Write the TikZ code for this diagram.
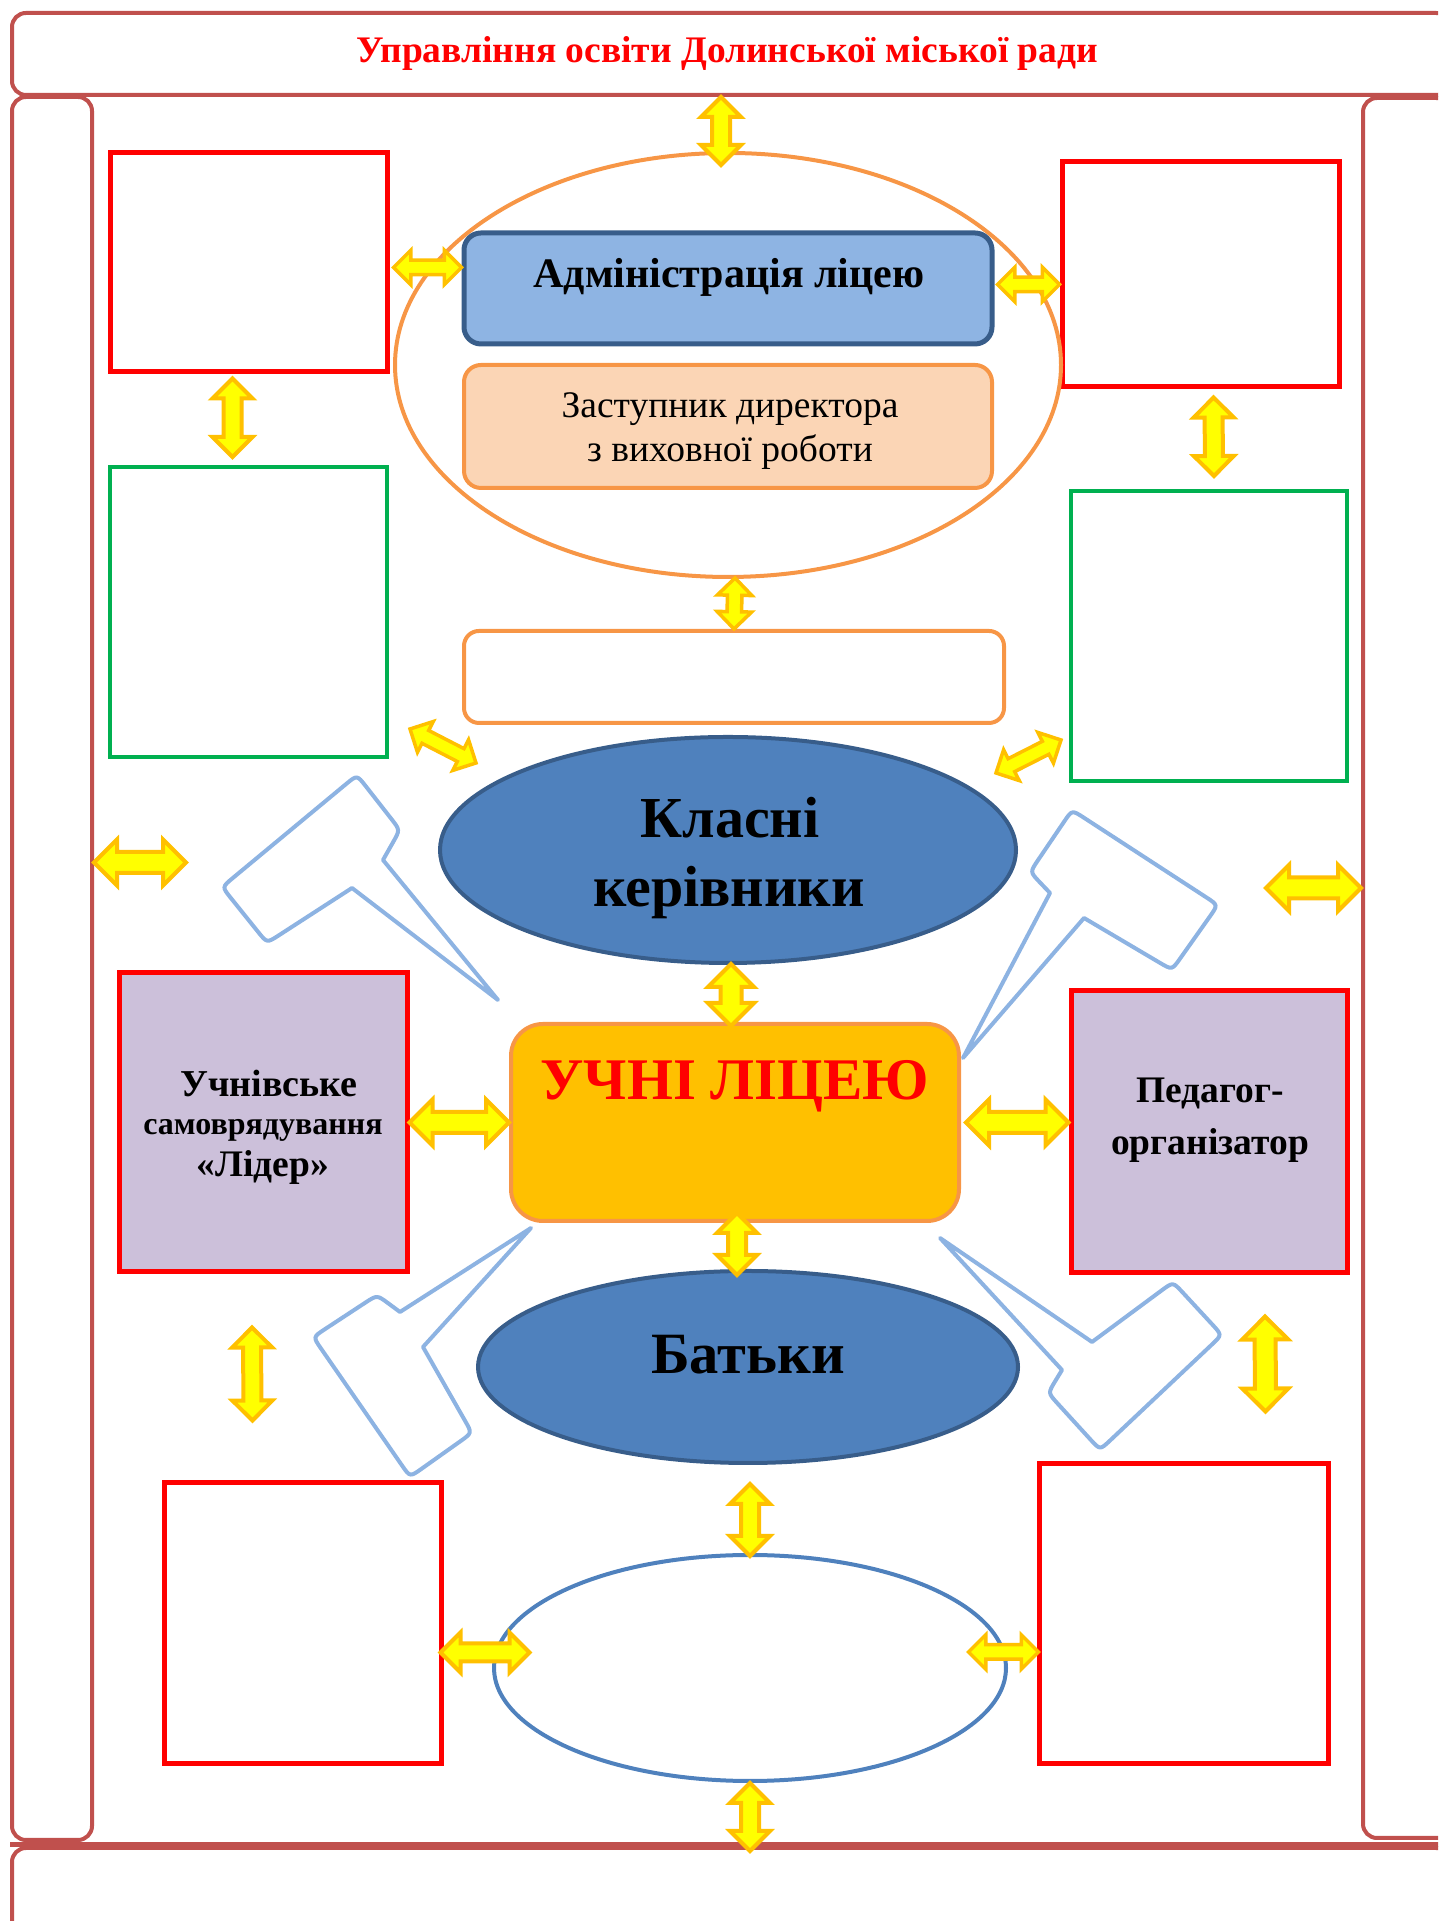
\documentclass[tikz,border=0pt]{standalone}
\usepackage{fontspec}
\setmainfont{Liberation Serif}
\usetikzlibrary{shapes.geometric,shapes.arrows,calc}
\definecolor{framec}{HTML}{C0504D}
\definecolor{redc}{HTML}{FF0000}
\definecolor{greenc}{HTML}{00B050}
\definecolor{orangec}{HTML}{F79646}
\definecolor{adminfill}{HTML}{8EB4E3}
\definecolor{darkblue}{HTML}{385D8A}
\definecolor{peach}{HTML}{FBD5B5}
\definecolor{midblue}{HTML}{4F81BD}
\definecolor{gold}{HTML}{FFC000}
\definecolor{lilac}{HTML}{CCC0DA}
\definecolor{callc}{HTML}{8DB3E2}
\definecolor{arrowye}{HTML}{FFFF00}

\newcommand{\calloutpath}[7]{%
  \draw[callout] ($#1!14pt!#7$) .. controls #1 .. ($#1!14pt!#2$)
   -- ($#2!14pt!#1$) .. controls #2 .. ($#2!14pt!#3$)
   -- #3 -- #4 -- #5
   -- ($#6!14pt!#5$) .. controls #6 .. ($#6!14pt!#7$)
   -- ($#7!14pt!#6$) .. controls #7 .. ($#7!14pt!#1$) -- cycle;}

\tikzset{
  framebox/.style={draw=framec, line width=4pt, rounded corners=14pt, inner sep=0pt},
  frameline/.style={draw=framec, line width=5pt},
  redbox/.style={draw=redc, line width=5pt, inner sep=0pt},
  greenbox/.style={draw=greenc, line width=4pt, inner sep=0pt},
  ovalorange/.style={ellipse, draw=orangec, line width=4pt, inner sep=0pt},
  adminbox/.style={draw=darkblue, fill=adminfill, line width=5pt, rounded corners=17pt, inner sep=0pt},
  deputybox/.style={draw=orangec, fill=peach, line width=4pt, rounded corners=17pt, inner sep=0pt},
  emptybox/.style={draw=orangec, line width=4pt, rounded corners=15pt, inner sep=0pt},
  blueell/.style={ellipse, draw=darkblue, fill=midblue, line width=4pt, inner sep=0pt},
  ovalblue/.style={ellipse, draw=midblue, line width=4pt, inner sep=0pt},
  uchnibox/.style={draw=orangec, fill=gold, line width=4pt, rounded corners=32pt, inner sep=0pt},
  lilacbox/.style={draw=redc, fill=lilac, line width=5pt, inner sep=0pt},
  callout/.style={draw=callc, line width=4pt, line join=round},
  txt/.style={anchor=base, inner sep=0pt},
  arrowshape/.style={double arrow, draw=gold, fill=arrowye, line width=4pt,
     inner xsep=0pt, double arrow tip angle=90, anchor=center},
  arrbig/.style={arrowshape, inner ysep=8.5pt, double arrow head extend=12.5pt},
  arrmed/.style={arrowshape, inner ysep=7pt, double arrow head extend=11pt},
  arrsmall/.style={arrowshape, line width=3.5pt, inner ysep=5.5pt, double arrow head extend=10pt},
  dblto/.style={to path={let \p1=(\tikztostart), \p2=(\tikztotarget),
     \n1={atan2(\y2-\y1,\x2-\x1)}, \n2={veclen(\x2-\x1,\y2-\y1)} in
     node[#1, minimum height=\n2, rotate=\n1] at ($(\p1)!0.5!(\p2)$) {}}},
  dbl/.style={dblto=arrbig},
  dblm/.style={dblto=arrmed},
  dbls/.style={dblto=arrsmall},
}

\begin{document}
\begin{tikzpicture}[x=1pt,y=1pt]
\useasboundingbox (0,0) rectangle (1438,1921);
\clip (0,0) rectangle (1438,1921);

% frame
\node[framebox, minimum width=1438pt, minimum height=82pt] (banner) at (731,1867) {};
\node[txt, font=\fontsize{37.5}{45}\selectfont\bfseries, text=redc] (title) at (727,1858)
  {Управління освіти Долинської міської ради};
\node[framebox, minimum width=80pt, minimum height=1743pt] (leftbar) at (52,952.5) {};
\node[framebox, minimum width=87pt, minimum height=1740pt] (rightbar) at (1406.5,953) {};
\draw[frameline] (leftbar.south west |- 0,76) -- (1450,76);
\node[framebox, minimum width=1438pt, minimum height=120pt] (botbanner) at (731,13) {};

% boxes
\node[redbox, minimum width=277pt, minimum height=219pt] (redTL) at (248.5,1658.5) {};
\node[greenbox, minimum width=277pt, minimum height=290pt] (greenL) at (248.5,1309) {};
\node[redbox, minimum width=277pt, minimum height=225pt] (redTR) at (1200.5,1646.5) {};
\node[greenbox, minimum width=276pt, minimum height=290pt] (greenR) at (1209,1285) {};
\node[ovalorange, minimum width=666pt, minimum height=424pt] (ovalA) at (728,1556) {};
\node[adminbox, minimum width=528pt, minimum height=111pt] (admin) at (728,1632.5) {};
\node[deputybox, minimum width=528pt, minimum height=123pt] (deputy) at (728,1494.5) {};
\node[emptybox, minimum width=540pt, minimum height=92pt] (emptyO) at (734,1244) {};
\node[blueell, minimum width=576pt, minimum height=226pt] (klasni) at (728,1071) {};
\node[uchnibox, minimum width=448pt, minimum height=197pt] (uchni) at (735,798.5) {};
\node[lilacbox, minimum width=288pt, minimum height=299pt] (purL) at (263,798.5) {};
\node[lilacbox, minimum width=276pt, minimum height=282pt] (purR) at (1209,789) {};
\node[blueell, minimum width=540pt, minimum height=192pt] (batky) at (748,554) {};
\node[redbox, minimum width=277pt, minimum height=281pt] (redBL) at (302.5,297.5) {};
\node[redbox, minimum width=289pt, minimum height=300pt] (redBR) at (1183.5,307) {};
\node[ovalblue, minimum width=512pt, minimum height=226pt] (ovalB) at (750,253) {};

% texts
\node[txt, font=\fontsize{42}{50}\selectfont\bfseries] (tadmin) at (729,1633) {Адміністрація ліцею};
\node[txt, font=\fontsize{37.5}{45}\selectfont] (tdep1) at (730,1503) {Заступник директора};
\node[txt, font=\fontsize{37.5}{45}\selectfont] (tdep2) at (730,1459) {з виховної роботи};
\node[txt, font=\fontsize{58}{70}\selectfont\bfseries] (tkl1) at (730,1083) {Класні};
\node[txt, font=\fontsize{58}{70}\selectfont\bfseries] (tkl2) at (729,1014) {керівники};
\node[txt, font=\fontsize{59}{71}\selectfont\bfseries, text=redc] (tuchni) at (735,821) {УЧНІ ЛІЦЕЮ};
\node[txt, font=\fontsize{58.5}{70}\selectfont\bfseries] (tbatky) at (748,547) {Батьки};
\node[txt, font=\fontsize{38}{46}\selectfont\bfseries] (tl1) at (269,824) {Учнівське};
\node[txt, font=\fontsize{32}{40}\selectfont\bfseries] (tl2) at (263,786) {самоврядування};
\node[txt, font=\fontsize{37.5}{45}\selectfont\bfseries] (tl3) at (263,744) {«Лідер»};
\node[txt, font=\fontsize{37.5}{45}\selectfont\bfseries] (tp1) at (1210,818) {Педагог-};
\node[txt, font=\fontsize{37.5}{45}\selectfont\bfseries] (tp2) at (1210,766) {організатор};

% callouts
\calloutpath{(357,1146)}{(400,1091)}{(383,1061)}{(498,921)}{(352,1033)}{(267,978)}{(222,1034)}
\calloutpath{(1218,1016)}{(1172,951)}{(1084,1003)}{(963,863)}{(1050,1028)}{(1030,1049)}{(1072,1111)}
\calloutpath{(410,444)}{(472,488)}{(423,574)}{(531,693)}{(400,609)}{(377,626)}{(313,584)}
\calloutpath{(1100,471)}{(1048,528)}{(1062,551)}{(940,683)}{(1092,579)}{(1173,639)}{(1222,586)}

% double arrows
\path ($(ovalA.north |- banner.south)+(-7,0)$) to[dblm] ($(ovalA.north)+(-7,-14)$);
\path ($(redTL.east)+(4,-5)$) to[dbls] ($(redTL.east -| admin.west)+(0,-5)$);
\path ($(admin.east)+(3,4)$) to[dbls] ($(admin.east -| redTR.west)+(0,4)$);
\path ($(redTL.south)+(-16,-4)$) to[dblm] ($(greenL.north)+(-16,8)$);
\path ($(redTR.south)+(13,-8)$) to[dblm] ($(greenR.north)+(5,13)$);
\path ($(ovalA.south)+(7,1)$) to[dbls] (emptyO.north);
\path ($(greenL.south east)+(21,30)$) to[dbls] ($(greenL.south east)+(87,-4)$);
\path ($(greenR.south west)+(-73,10)$) to[dbls] ($(greenR.south west)+(-8,43)$);
\path ($(leftbar.east)+(0,106)$) to[dbl] ($(leftbar.east)+(92,106)$);
\path ($(rightbar.west)+(-95,80)$) to[dbl] ($(rightbar.west)+(0,80)$);
\path ($(klasni.south)+(3,1)$) to[dbl] ($(uchni.north)+(-4,-4)$);
\path (purL.east) to[dbl] (uchni.west);
\path ($(uchni.east)+(5,0)$) to[dbl] (purR.west |- uchni.east);
\path ($(uchni.south)+(2,10)$) to[dblm] ($(uchni.south |- batky.north)+(2,-6)$);
\path ($(purL.south)+(-11,-53)$) to[dblm] ($(redBL.north)+(-50,60)$);
\path ($(purR.south)+(56,-41)$) to[dbl] ($(redBR.north)+(82,50)$);
\path ($(batky.south)+(2,-19)$) to[dblm] ($(ovalB.north)+(0,-3)$);
\path ($(redBL.east)+(-3,-29)$) to[dblm] ($(redBL.east)+(86,-29)$);
\path ($(redBR.west)+(-68,-38)$) to[dbls] ($(redBR.west)+(2,-38)$);
\path (ovalB.south) to[dblm] ($(ovalB.south)+(0,-68)$);
\end{tikzpicture}
\end{document}
